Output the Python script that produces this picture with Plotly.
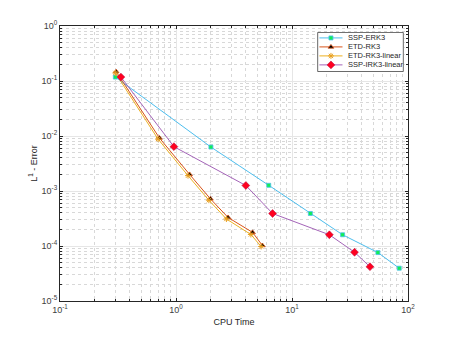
import plotly.graph_objects as go

# CPU time / L1 error
ssp_erk3_t = [0.30, 2.0, 6.3, 14.4, 27.3, 55.0, 84.0]
ssp_erk3_e = [0.118, 6.3e-3, 1.27e-3, 3.9e-4, 1.6e-4, 7.6e-5, 3.95e-5]

etd_rk3_t = [0.305, 0.72, 1.31, 1.98, 2.81, 4.57, 5.56]
etd_rk3_e = [0.148, 9.2e-3, 2.0e-3, 7.2e-4, 3.3e-4, 1.77e-4, 1.02e-4]

etd_lin_t = [0.30, 0.70, 1.27, 1.92, 2.72, 4.42, 5.42]
etd_lin_e = [0.140, 8.8e-3, 1.9e-3, 6.8e-4, 3.1e-4, 1.62e-4, 0.98e-4]

ssp_irk_t = [0.335, 0.96, 4.0, 6.8, 21.0, 34.6, 47.0]
ssp_irk_e = [0.118, 6.4e-3, 1.26e-3, 3.9e-4, 1.6e-4, 7.7e-5, 4.2e-5]

series_names = ["SSP-ERK3", "ETD-RK3", "ETD-RK3-linear", "SSP-IRK3-linear"]

x_ticks = [0.1, 1, 10, 100]
x_labels = ["10<sup>-1</sup>", "10<sup>0</sup>", "10<sup>1</sup>", "10<sup>2</sup>"]
y_ticks = [1e-5, 1e-4, 1e-3, 1e-2, 1e-1, 1]
y_labels = ["10<sup>-5</sup>", "10<sup>-4</sup>", "10<sup>-3</sup>",
            "10<sup>-2</sup>", "10<sup>-1</sup>", "10<sup>0</sup>"]


def minor_vals(decades):
    return [m * 10.0 ** d for d in decades for m in range(2, 10)]


styles = [
    dict(line=dict(color="#4DBEEE", width=1),
         marker=dict(symbol="square", size=4, color="#11EE55",
                     line=dict(color="#4DBEEE", width=0.8))),
    dict(line=dict(color="#D95319", width=1),
         marker=dict(symbol="triangle-up", size=5, color="black",
                     line=dict(color="#D95319", width=0.8))),
    dict(line=dict(color="#EDB120", width=1),
         marker=dict(symbol="asterisk", size=5, color="#EDB120",
                     line=dict(color="#E8A020", width=1))),
    dict(line=dict(color="#A464B8", width=1),
         marker=dict(symbol="diamond", size=6, color="#FF0020",
                     line=dict(color="#C01040", width=0.6))),
]

fig = go.Figure()
for name, xs, ys, st in zip(series_names,
                            [ssp_erk3_t, etd_rk3_t, etd_lin_t, ssp_irk_t],
                            [ssp_erk3_e, etd_rk3_e, etd_lin_e, ssp_irk_e], styles):
    fig.add_trace(go.Scatter(x=xs, y=ys, name=name, mode="lines+markers",
                             showlegend=False, **st))

# compact MATLAB-style legend drawn on a small helper axis (plotly's own legend rows are too tall)
fig.add_trace(go.Scatter(x=[0, 1, 1, 0, 0], y=[0, 0, 1, 1, 0], mode="lines", fill="toself",
                         fillcolor="white", line=dict(color="#262626", width=0.7),
                         xaxis="x2", yaxis="y2", showlegend=False, hoverinfo="skip"))
rows = [0.86, 0.63, 0.40, 0.17]
for name, row, st in zip(series_names, rows, styles):
    fig.add_trace(go.Scatter(x=[0.02, 0.29], y=[row, row], mode="lines", line=st["line"],
                             xaxis="x2", yaxis="y2", showlegend=False, hoverinfo="skip"))
    fig.add_trace(go.Scatter(x=[0.155], y=[row], mode="markers", marker=st["marker"],
                             xaxis="x2", yaxis="y2", showlegend=False, hoverinfo="skip"))
    fig.add_annotation(x=0.335, y=row, xref="x2", yref="y2", text=name, showarrow=False,
                       xanchor="left", yanchor="middle",
                       font=dict(size=7.5, color="#262626"))

ax_common = dict(type="log", showline=True, mirror="ticks", linecolor="#262626", linewidth=1,
                 ticks="inside", ticklen=3, tickcolor="#262626", automargin=False,
                 showgrid=True, gridcolor="#E6E6E6", gridwidth=1, zeroline=False,
                 tickfont=dict(family="Liberation Sans, Arial", size=9, color="#404040"))
hidden = dict(range=[-0.01, 1.01], visible=False, fixedrange=True)

# page body adds ~8px offset, so margins are shifted up/left to compensate
fig.update_layout(
    width=450, height=338,
    paper_bgcolor="white", plot_bgcolor="white",
    margin=dict(l=52, r=50, t=18, b=45),
    font=dict(family="Liberation Sans, Arial", size=9, color="#262626"),
    xaxis=dict(ax_common, range=[-1, 2], tickvals=x_ticks, ticktext=x_labels,
               title=dict(text="CPU Time", font=dict(size=9), standoff=4),
               minor=dict(tickmode="array", tickvals=minor_vals([-1, 0, 1]),
                          ticks="inside", ticklen=2, tickcolor="#262626",
                          showgrid=True, gridcolor="#D8D8D8", griddash="dot")),
    yaxis=dict(ax_common, range=[-5, 0], tickvals=y_ticks, ticktext=y_labels,
               title=dict(text="L<sup>1</sup> - Error", font=dict(size=9), standoff=2),
               minor=dict(tickmode="array", tickvals=minor_vals([-5, -4, -3, -2, -1]),
                          ticks="inside", ticklen=2, tickcolor="#262626",
                          showgrid=True, gridcolor="#D8D8D8", griddash="dot")),
    xaxis2=dict(hidden, domain=[0.738, 0.989], anchor="y2"),
    yaxis2=dict(hidden, domain=[0.833, 0.978], anchor="x2"),
)

fig.write_html("out.html")
